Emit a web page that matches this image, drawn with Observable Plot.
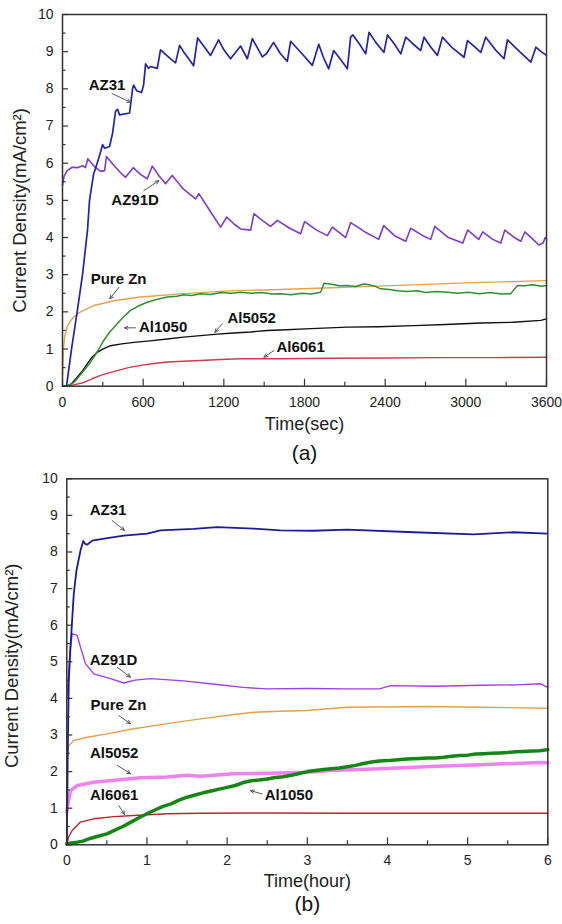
<!DOCTYPE html>
<html>
<head>
<meta charset="utf-8">
<script src="https://cdn.jsdelivr.net/npm/d3@7"></script>
<script src="https://cdn.jsdelivr.net/npm/@observablehq/plot@0.6"></script>
<style>
  html, body { margin: 0; padding: 0; background: #fff; }
  #wrap { position: relative; width: 562px; height: 924px; overflow: hidden; }
  #pa, #pb { position: absolute; left: 0; }
  #pa { top: 0; }
  #pb { top: 460px; }
  svg { display: block; }
</style>
</head>
<body>
<div id="wrap"><div id="pa"></div><div id="pb"></div></div>
<script>
// ---------- Panel (a): time in seconds ----------
const az31A = [[30,0],[67,1],[109,2],[149,3],[186,4.2],[201,5],[231,5.7],[258,6.0],[283,6.3],[298,6.5],[313,6.4],[350,6.45],[372,6.8],[395,7.4],[410,7.45],[424,7.3],[499,7.35],[521,8.0],[529,8.1],[551,7.95],[588,7.9],[603,8.1],[618,8.67],[640,8.55],[655,8.6],[705,8.55],[729,9.05],[760,8.95],[800,8.82],[841,8.7],[871,9.17],[900,9.0],[940,8.8],[975,8.62],[1005,9.37],[1050,9.15],[1101,8.9],[1161,9.32],[1200,9.05],[1250,8.81],[1325,9.15],[1375,8.81],[1412,9.35],[1450,9.1],[1486,8.86],[1518,8.95],[1570,9.25],[1620,8.95],[1672,8.74],[1697,9.28],[1780,8.95],[1858,8.63],[1906,9.2],[1940,8.85],[1980,8.54],[2017,9.03],[2070,8.78],[2119,8.54],[2143,9.39],[2160,9.45],[2210,9.2],[2255,8.94],[2280,9.52],[2330,9.25],[2391,8.98],[2417,9.45],[2470,9.2],[2516,8.94],[2553,9.39],[2610,9.2],[2664,9.03],[2689,9.39],[2740,9.12],[2789,8.9],[2826,9.39],[2900,9.1],[2987,8.85],[3012,9.3],[3060,9.15],[3111,8.98],[3148,9.39],[3220,9.05],[3284,8.81],[3310,9.32],[3400,9.0],[3484,8.72],[3521,9.12],[3560,9.0],[3600,8.9]];
const az91dA = [[0,5.4],[12,5.65],[35,5.8],[72,5.89],[110,5.88],[150,5.93],[171,5.88],[188,6.12],[240,5.9],[283,5.78],[313,5.8],[327,6.18],[380,5.95],[430,5.75],[469,5.62],[526,5.88],[580,5.7],[630,5.58],[668,5.92],[720,5.65],[767,5.45],[816,5.67],[900,5.3],[990,5.04],[1014,5.18],[1100,4.7],[1176,4.28],[1221,4.55],[1280,4.35],[1325,4.23],[1399,4.2],[1424,4.64],[1490,4.45],[1548,4.3],[1598,4.46],[1690,4.25],[1771,4.1],[1801,4.43],[1890,4.2],[1970,4.05],[2007,4.28],[2106,4.0],[2143,4.4],[2250,4.15],[2352,3.95],[2389,4.32],[2470,4.05],[2553,3.9],[2590,4.25],[2680,4.05],[2739,3.95],[2769,4.3],[2870,4.0],[2977,3.85],[3014,4.2],[3096,3.95],[3126,4.15],[3200,3.95],[3260,3.85],[3290,4.2],[3360,4.0],[3409,3.9],[3439,4.15],[3500,3.95],[3543,3.8],[3575,3.85],[3590,4.0],[3600,3.95]];
const pureZnA = [[0,0.3],[3,0.6],[7,1.0],[17,1.35],[35,1.6],[60,1.76],[84,1.86],[134,2.0],[233,2.17],[382,2.3],[581,2.4],[901,2.49],[1273,2.57],[1622,2.6],[2000,2.65],[2400,2.7],[3000,2.78],[3600,2.84]];
const al1050A = [[0,0],[35,0.02],[60,0.05],[84,0.1],[120,0.25],[159,0.42],[200,0.6],[233,0.78],[270,1.0],[307,1.23],[350,1.45],[407,1.68],[450,1.85],[506,2.04],[560,2.15],[630,2.26],[700,2.33],[779,2.4],[850,2.42],[900,2.46],[960,2.44],[1027,2.49],[1100,2.47],[1180,2.52],[1250,2.5],[1325,2.53],[1400,2.5],[1480,2.52],[1560,2.48],[1622,2.49],[1700,2.46],[1780,2.5],[1850,2.48],[1920,2.53],[1945,2.77],[2000,2.74],[2060,2.7],[2119,2.71],[2180,2.68],[2240,2.75],[2292,2.72],[2330,2.68],[2367,2.62],[2430,2.6],[2491,2.57],[2560,2.55],[2640,2.57],[2700,2.52],[2780,2.55],[2863,2.53],[2940,2.5],[3020,2.53],[3100,2.49],[3180,2.52],[3260,2.48],[3334,2.49],[3384,2.71],[3440,2.7],[3500,2.73],[3560,2.69],[3600,2.71]];
const al5052A = [[0,0],[35,0],[70,0.08],[109,0.24],[150,0.42],[184,0.6],[220,0.78],[258,0.91],[300,1.0],[357,1.09],[440,1.14],[531,1.18],[650,1.22],[779,1.27],[900,1.32],[1027,1.36],[1150,1.4],[1273,1.43],[1400,1.46],[1523,1.5],[1622,1.51],[1850,1.55],[2119,1.59],[2350,1.6],[2615,1.63],[2850,1.66],[3111,1.7],[3350,1.72],[3558,1.77],[3600,1.81]];
const al6061A = [[0,0],[35,0],[100,0.05],[159,0.1],[220,0.2],[283,0.29],[345,0.36],[407,0.42],[490,0.5],[581,0.56],[680,0.61],[779,0.65],[900,0.67],[1027,0.69],[1175,0.72],[1325,0.74],[1622,0.74],[2000,0.75],[2400,0.76],[2800,0.77],[3200,0.77],[3600,0.78]];
const labelsA = [["AZ31",331,8.09],["AZ91D",540,5.0],["Pure Zn",417,2.87],["Al1050",748,1.59],["Al5052",1407,1.84],["Al6061",1771,1.05]];
const arrowsA = [[370,7.87,506,7.64],[605,5.26,717,5.53],[419,2.66,352,2.35],[543,1.57,461,1.57],[1189,1.68,1133,1.45],[1573,0.96,1498,0.78]];
const xMajorA = [0,600,1200,1800,2400,3000,3600];
const xMinorA = [300,900,1500,2100,2700,3300];

// ---------- Panel (b): time in hours ----------
const az31B = [[0,0],[0.012,2.5],[0.025,4.49],[0.046,5.4],[0.087,6.86],[0.121,7.5],[0.171,8.04],[0.205,8.3],[0.23,8.22],[0.254,8.2],[0.317,8.31],[0.504,8.38],[0.711,8.45],[1.003,8.5],[1.169,8.59],[1.584,8.63],[1.876,8.68],[2.333,8.64],[2.666,8.59],[3.077,8.58],[3.498,8.61],[4.328,8.54],[5.077,8.48],[5.572,8.54],[5.992,8.5]];
const az91dB = [[0,4.0],[0.02,4.6],[0.04,5.3],[0.067,5.77],[0.13,5.72],[0.171,5.4],[0.233,4.95],[0.337,4.67],[0.545,4.54],[0.711,4.42],[0.85,4.5],[1.044,4.54],[1.456,4.48],[1.876,4.38],[2.2,4.3],[2.5,4.26],[3.0,4.27],[3.5,4.26],[3.9,4.26],[4.04,4.35],[4.6,4.33],[5.16,4.36],[5.6,4.37],[5.91,4.4],[6.0,4.3]];
const pureZnB = [[0,2.2],[0.01,2.5],[0.025,2.71],[0.087,2.85],[0.254,2.94],[0.504,3.03],[0.836,3.17],[1.252,3.31],[1.668,3.44],[2.083,3.56],[2.333,3.62],[2.666,3.65],[3.0,3.67],[3.498,3.76],[4.537,3.78],[5.16,3.76],[5.99,3.73]];
const al5052B = [[0,0.9],[0.02,1.2],[0.046,1.48],[0.13,1.62],[0.337,1.71],[0.629,1.77],[0.919,1.83],[1.252,1.85],[1.5,1.9],[1.668,1.87],[2.083,1.94],[2.666,1.96],[3.0,1.98],[3.29,2.03],[3.913,2.08],[4.537,2.14],[5.16,2.19],[5.91,2.25],[6.0,2.24]];
const al1050B = [[0,0.03],[0.1,0.06],[0.2,0.1],[0.3,0.18],[0.4,0.24],[0.5,0.3],[0.6,0.4],[0.7,0.5],[0.8,0.62],[0.9,0.74],[1.0,0.85],[1.1,0.95],[1.2,1.05],[1.3,1.12],[1.4,1.22],[1.5,1.3],[1.6,1.36],[1.7,1.42],[1.8,1.47],[1.9,1.52],[2.0,1.57],[2.1,1.62],[2.2,1.7],[2.3,1.75],[2.4,1.77],[2.5,1.8],[2.6,1.84],[2.7,1.86],[2.8,1.9],[2.9,1.95],[3.0,2.0],[3.1,2.03],[3.2,2.06],[3.3,2.08],[3.4,2.1],[3.5,2.13],[3.6,2.17],[3.7,2.22],[3.8,2.26],[3.9,2.29],[4.0,2.3],[4.1,2.32],[4.2,2.34],[4.3,2.35],[4.4,2.36],[4.5,2.37],[4.6,2.37],[4.7,2.39],[4.8,2.42],[4.9,2.44],[5.0,2.45],[5.1,2.48],[5.2,2.49],[5.3,2.5],[5.4,2.51],[5.5,2.52],[5.6,2.54],[5.7,2.55],[5.8,2.56],[5.9,2.57],[6.0,2.6]];
const al6061B = [[0,0],[0.02,0.2],[0.067,0.39],[0.171,0.62],[0.337,0.71],[0.586,0.77],[0.836,0.8],[1.252,0.85],[1.668,0.86],[2.5,0.87],[3.5,0.86],[4.5,0.86],[6.0,0.86]];
const labelsB = [["AZ31",0.514,9.13],["AZ91D",0.583,5.04],["Pure Zn",0.645,3.81],["Al5052",0.591,2.49],["Al6061",0.591,1.35],["Al1050",2.77,1.35]];
const arrowsB = [[0.566,8.86,0.72,8.59],[0.629,4.85,0.795,4.58],[0.649,3.53,0.795,3.31],[0.629,2.17,0.795,1.94],[0.649,1.07,0.72,0.83],[2.437,1.39,2.29,1.48]];
const xMajorB = [0,1,2,3,4,5,6];
const xMinorB = [0.5,1.5,2.5,3.5,4.5,5.5];

const yMajor = [0,1,2,3,4,5,6,7,8,9,10];
const yMinor = [0.5,1.5,2.5,3.5,4.5,5.5,6.5,7.5,8.5,9.5];
const yTitle = "Current Density(mA/cm²)";

const FONT = "'Liberation Sans', Arial, Helvetica, sans-serif";
const X = d => d[0], Y = d => d[1];
const fmt = d => String(d);

// inward ticks: tick marks inset so only a short stub remains at the left / bottom edges
function axes(xMajor, xMinor, padX, plotW, plotH) {
  return [
    Plot.tickY(yMajor, {y: d => d, insetRight: plotW - 6, stroke: "#333", strokeWidth: 1.2}),
    Plot.tickY(yMinor, {y: d => d, insetRight: plotW - 3.5, stroke: "#333", strokeWidth: 1.2}),
    Plot.tickX(xMajor, {x: d => d, insetTop: plotH - 7, stroke: "#333", strokeWidth: 1.2}),
    Plot.tickX(xMinor, {x: d => d, insetTop: plotH - 4, stroke: "#333", strokeWidth: 1.2}),
    Plot.axisY({ticks: yMajor, tickSize: 0, tickPadding: 9, fontSize: 14, label: null, fill: "#222", tickFormat: fmt}),
    Plot.axisX({ticks: xMajor, tickSize: 0, tickPadding: padX, fontSize: 14, label: null, fill: "#222", tickFormat: fmt})
  ];
}
function annots(labels, arrows) {
  return [
    Plot.arrow(arrows, {x1: d => d[0], y1: d => d[1], x2: d => d[2], y2: d => d[3], stroke: "#555", strokeWidth: 1, headLength: 6, headAngle: 50}),
    Plot.text(labels, {x: d => d[1], y: d => d[2], text: d => d[0], fontSize: 15, fontWeight: "bold", fill: "#111"})
  ];
}

const plotA = Plot.plot({
  width: 562, height: 480,
  marginTop: 14, marginLeft: 62, marginRight: 16, marginBottom: 94.3,
  x: {domain: [0, 3600]}, y: {domain: [0, 10]},
  style: {fontFamily: FONT, background: "transparent", overflow: "visible"},
  marks: [
    Plot.line(pureZnA, {x: X, y: Y, stroke: "#e5a24c", strokeWidth: 1.4}),
    Plot.line(al6061A, {x: X, y: Y, stroke: "#d03a4a", strokeWidth: 1.4}),
    Plot.line(al5052A, {x: X, y: Y, stroke: "#111", strokeWidth: 1.4}),
    Plot.line(al1050A, {x: X, y: Y, stroke: "#2f8f2f", strokeWidth: 1.5}),
    Plot.line(az91dA, {x: X, y: Y, stroke: "#7c3cc8", strokeWidth: 1.6}),
    Plot.line(az31A, {x: X, y: Y, stroke: "#2424a4", strokeWidth: 1.7}),
    ...annots(labelsA, arrowsA),
    ...axes(xMajorA, xMinorA, 11, 562 - 62 - 16, 480 - 14 - 94.3),
    Plot.frame({stroke: "#333", strokeWidth: 1.5}),
    Plot.text([yTitle], {frameAnchor: "left", textAnchor: "middle", rotate: -90, dx: -42, dy: 10, fontSize: 18.5, fill: "#222"}),
    Plot.text(["Time(sec)"], {frameAnchor: "bottom", textAnchor: "middle", dy: 43.5, fontSize: 18, fill: "#222"}),
    Plot.text(["(a)"], {frameAnchor: "bottom", textAnchor: "middle", dy: 74, fontSize: 21, fill: "#111"})
  ]
});
document.getElementById("pa").appendChild(plotA);

const plotB = Plot.plot({
  width: 562, height: 464,
  marginTop: 18.3, marginLeft: 66.3, marginRight: 14.7, marginBottom: 79.7,
  x: {domain: [0, 6]}, y: {domain: [0, 10]},
  style: {fontFamily: FONT, background: "transparent", overflow: "visible"},
  marks: [
    Plot.line(al6061B, {x: X, y: Y, stroke: "#b52828", strokeWidth: 1.4}),
    Plot.line(al5052B, {x: X, y: Y, stroke: "#ee82ee", strokeWidth: 3.5}),
    Plot.line(al1050B, {x: X, y: Y, stroke: "#158515", strokeWidth: 3.5}),
    Plot.line(pureZnB, {x: X, y: Y, stroke: "#e0a050", strokeWidth: 1.4}),
    Plot.line(az91dB, {x: X, y: Y, stroke: "#a23ee6", strokeWidth: 1.4}),
    Plot.line(az31B, {x: X, y: Y, stroke: "#1c1c96", strokeWidth: 1.8}),
    ...annots(labelsB, arrowsB),
    ...axes(xMajorB, xMinorB, 10.5, 562 - 66.3 - 14.7, 464 - 18.3 - 79.7),
    Plot.frame({stroke: "#333", strokeWidth: 1.5}),
    Plot.text([yTitle], {frameAnchor: "left", textAnchor: "middle", rotate: -90, dx: -55, dy: 4, fontSize: 18.5, fill: "#222"}),
    Plot.text(["Time(hour)"], {frameAnchor: "bottom", textAnchor: "middle", dy: 42, fontSize: 18, fill: "#222"}),
    Plot.text(["(b)"], {frameAnchor: "bottom", textAnchor: "middle", dy: 66, fontSize: 21, fill: "#111"})
  ]
});
document.getElementById("pb").appendChild(plotB);
</script>
</body>
</html>
